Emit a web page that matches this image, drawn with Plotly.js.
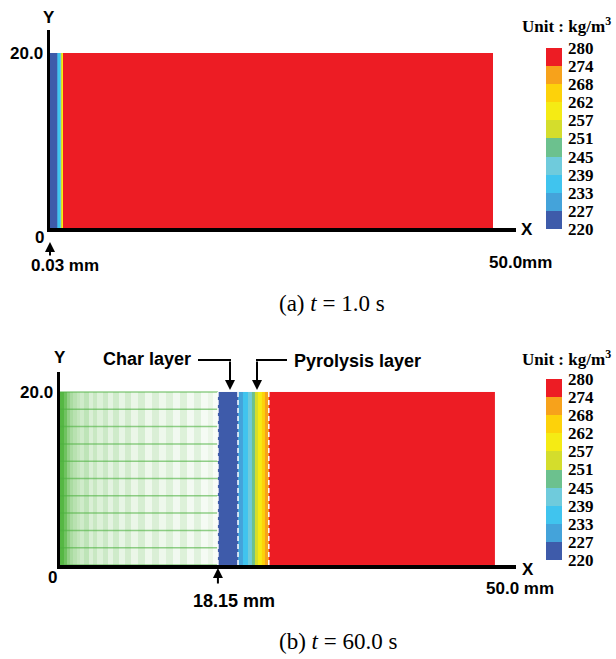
<!DOCTYPE html>
<html><head><meta charset="utf-8">
<script src="https://cdn.plot.ly/plotly-3.0.1.min.js"></script>
<style>html,body{margin:0;padding:0;background:#fff}</style>
</head><body><div id="chart" style="width:616px;height:659px"></div>
<script>
// ---- data ----
const levelLabels = ['220','227','233','239','245','251','257','262','268','274','280'];
const levelColors = ['#3E5BAA','#44A3DA','#40C4EE','#6FCBDC','#6CC18E','#D4DD2C','#F5EB14','#FDD20A','#F7A21B','#ED1C24'];

// (a) t = 1.0 s : density bands along x (mm, as drawn)
const topEdges = [0, 0.76, 0.94, 1.1, 1.24, 1.32, 1.42, 1.5, 50];
const topRho   = [223, 229, 235, 241, 253, 259, 271, 278];

// (b) t = 60.0 s : density bands along x (mm)
const botEdges = [18.15, 20.46, 21.0, 21.6, 22.1, 22.4, 22.75, 23.2, 23.5, 24.0, 50];
const botRho   = [223, 229, 235, 241, 247, 253, 259, 265, 271, 278];

// burnt (char) region mesh shading: column edges (mm) and green shade 0..1
const charEdges = [0, 0.5, 0.8, 1.1, 1.5, 1.9, 2.3, 2.8, 3.3, 3.8, 4.3, 4.9, 5.5, 6.1, 6.8, 7.5, 8.2, 9.0, 9.8, 10.6, 11.4, 12.2, 13.0, 13.8, 14.6, 15.4, 16.2, 17.0, 17.6, 18.15];
const charShade = [1.0, 0.85, 0.65, 0.5, 0.42, 0.35, 0.28, 0.38, 0.22, 0.32, 0.2, 0.3, 0.16, 0.28, 0.14, 0.26, 0.12, 0.24, 0.1, 0.22, 0.1, 0.2, 0.08, 0.2, 0.07, 0.18, 0.06, 0.12, 0.04];
const meshY = [0, 2, 4, 6, 8, 10, 12, 14, 16, 18, 20];
const layerBounds = [18.15, 20.46, 24.0];
const slabY = [0, 20];

// ---- helpers (pixel -> paper) ----
const W = 616, H = 659;
const PX = p => p / W, PY = p => 1 - p / H;

const cmin = 220, cmax = 280, nLev = levelColors.length;
const cscale = [];
levelColors.forEach((c, i) => { cscale.push([i / nLev, c]); cscale.push([(i + 1) / nLev, c]); });
const tickvals = levelLabels.map((_, i) => cmin + i * (cmax - cmin) / nLev);

const sansB = {family: 'Liberation Sans, Arial, sans-serif', size: 17, color: '#000', weight: 'bold'};
const sansB18 = Object.assign({}, sansB, {size: 18});
const serifB = {family: 'Liberation Serif, Times New Roman, serif', size: 17, color: '#000', weight: 'bold'};
const serif = {family: 'Liberation Serif, Times New Roman, serif', size: 23, color: '#000', weight: 'normal'};

function cbar(centerPx) {
  return {x: PX(546), xanchor: 'left', xpad: 0, ypad: 0, y: PY(centerPx), yanchor: 'middle',
    len: 181, lenmode: 'pixels', thickness: 16, thicknessmode: 'pixels', outlinewidth: 0,
    tickvals: tickvals, ticktext: levelLabels, ticks: 'outside', ticklen: 3, tickcolor: 'rgba(0,0,0,0)',
    tickfont: serifB};
}

const traces = [];
// (a)
traces.push({type: 'heatmap', x: topEdges, y: slabY, z: [topRho], coloraxis: 'coloraxis', xaxis: 'x', yaxis: 'y', hoverinfo: 'skip'});
// (b) char mesh region
traces.push({type: 'heatmap', x: charEdges, y: slabY, z: [charShade], zmin: 0, zmax: 1,
  colorscale: [[0, '#FFFFFF'], [1, '#55B743']], showscale: false, xaxis: 'x2', yaxis: 'y2', hoverinfo: 'skip'});
// mesh lines
const mx = [], my = [];
meshY.forEach(v => { mx.push(charEdges[0], charEdges[charEdges.length - 1], null); my.push(v, v, null); });
traces.push({type: 'scatter', mode: 'lines', x: mx, y: my, xaxis: 'x2', yaxis: 'y2',
  line: {color: 'rgba(76,177,64,0.6)', width: 1.5}, hoverinfo: 'skip'});
// (b) density bands
traces.push({type: 'heatmap', x: botEdges, y: slabY, z: [botRho], coloraxis: 'coloraxis2', xaxis: 'x2', yaxis: 'y2', hoverinfo: 'skip'});
// dashed layer boundaries
const dx = [], dy = [];
layerBounds.forEach(b => { dx.push(b, b, null); dy.push(slabY[0], slabY[1], null); });
traces.push({type: 'scatter', mode: 'lines', x: dx, y: dy, xaxis: 'x2', yaxis: 'y2',
  line: {color: '#FFFFFF', width: 1.5, dash: '5px,3px'}, hoverinfo: 'skip'});

const axBase = {showgrid: false, zeroline: false, showline: true, linecolor: '#000', linewidth: 3.5, ticks: '', fixedrange: true};

function ann(text, xp, yp, font, xanchor) {
  return {text: text, x: PX(xp), y: PY(yp), xref: 'paper', yref: 'paper', showarrow: false,
    xanchor: xanchor || 'center', yanchor: 'middle', font: font};
}
function arrowDown(xp, yTail, yHead) {
  return {text: '', x: PX(xp), y: PY(yHead), xref: 'paper', yref: 'paper', showarrow: true,
    ax: 0, ay: yTail - yHead, arrowhead: 2, arrowsize: 1, arrowwidth: 2, arrowcolor: '#000'};
}

const annotations = [
  // (a)
  ann('Y', 49, 18, sansB),
  ann('0', 46, 237, sansB, 'right'),
  ann('X', 527, 229, sansB),
  ann('50.0mm', 520, 262, sansB),
  {text: '', x: topEdges[0], xref: 'x', y: PY(242), yref: 'paper', showarrow: true, ax: 0, ay: 15,
    arrowhead: 2, arrowsize: 1, arrowwidth: 2, arrowcolor: '#000'},
  ann('0.03 mm', 65, 265, sansB),
  ann('Unit : kg/m<sup>3</sup>', 566, 25, serifB),
  ann('(a) <i>t</i> = 1.0 s', 332, 304, serif),
  // (b)
  ann('Y', 60, 358, sansB),
  ann('0', 59, 577, sansB, 'right'),
  ann('X', 528, 569, sansB),
  ann('50.0 mm', 520, 588, sansB),
  {text: '', x: layerBounds[0], xref: 'x2', y: PY(568), yref: 'paper', showarrow: true, ax: 0, ay: 17,
    arrowhead: 2, arrowsize: 1, arrowwidth: 2, arrowcolor: '#000'},
  ann('18.15 mm', 234, 601, sansB18),
  ann('Char layer', 193, 359, sansB18, 'right'),
  arrowDown(230, 360, 390),
  ann('Pyrolysis layer', 292, 361, sansB18, 'left'),
  arrowDown(257, 360, 390),
  ann('Unit : kg/m<sup>3</sup>', 566, 358, serifB),
  ann('(b) <i>t</i> = 60.0 s', 338, 641, serif)
];

const shapes = [
  {type: 'line', xref: 'paper', yref: 'paper', x0: PX(198), x1: PX(231), y0: PY(360), y1: PY(360), line: {color: '#000', width: 2}},
  {type: 'line', xref: 'paper', yref: 'paper', x0: PX(256), x1: PX(287), y0: PY(360), y1: PY(360), line: {color: '#000', width: 2}}
];

const layout = {
  width: W, height: H, margin: {l: 0, r: 0, t: 0, b: 0},
  paper_bgcolor: '#fff', plot_bgcolor: '#fff', showlegend: false,
  font: sansB,
  xaxis: Object.assign({}, axBase, {domain: [PX(50), PX(516)], range: [0, 52.6], showticklabels: false, anchor: 'y'}),
  yaxis: Object.assign({}, axBase, {domain: [PY(228), PY(30)], range: [0, 22.63], tickvals: [slabY[1]], ticktext: ['20.0'], tickfont: sansB, anchor: 'x'}),
  xaxis2: Object.assign({}, axBase, {domain: [PX(60), PX(516)], range: [0, 52.41], showticklabels: false, anchor: 'y2'}),
  yaxis2: Object.assign({}, axBase, {domain: [PY(565), PY(372)], range: [0, 22.31], tickvals: [slabY[1]], ticktext: ['20.0'], tickfont: sansB, anchor: 'x2'}),
  coloraxis: {cmin: cmin, cmax: cmax, colorscale: cscale, colorbar: cbar(138.5)},
  coloraxis2: {cmin: cmin, cmax: cmax, colorscale: cscale, colorbar: cbar(469.5)},
  annotations: annotations,
  shapes: shapes
};

Plotly.newPlot('chart', traces, layout, {displayModeBar: false, staticPlot: true});
</script></body></html>
